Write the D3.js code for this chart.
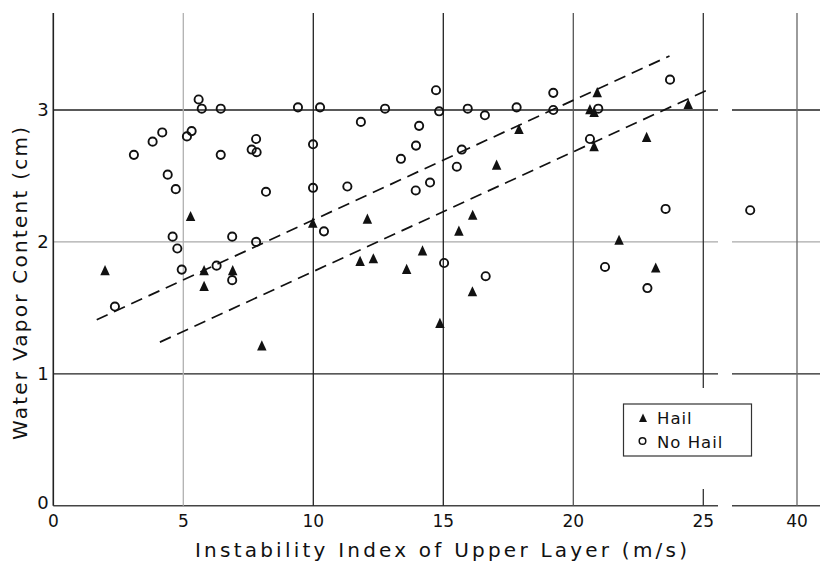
<!DOCTYPE html>
<html>
<head>
<meta charset="utf-8">
<script src="https://cdn.jsdelivr.net/npm/d3@7"></script>
<style>
  html, body { margin: 0; padding: 0; background: #fff; }
  svg { display: block; }
  text { font-family: "DejaVu Sans", sans-serif; fill: #111; }
</style>
</head>
<body>
<svg id="chart" width="820" height="563"></svg>
<script>
// ---- data ----
const hailX = [1.99, 5.28, 5.8, 5.8, 6.9, 8.02, 9.98, 11.8, 12.08, 12.31, 13.59, 14.2, 14.87, 15.6, 16.13, 16.12, 17.05, 17.91, 20.64, 20.8, 20.92, 20.8, 21.76, 22.82, 23.17, 24.42];
const hailY = [1.78, 2.19, 1.78, 1.66, 1.78, 1.21, 2.14, 1.85, 2.17, 1.87, 1.79, 1.93, 1.38, 2.08, 2.20, 1.62, 2.58, 2.85, 3.00, 2.98, 3.13, 2.72, 2.01, 2.79, 1.80, 3.04];

const noHailX = [2.37, 3.1, 3.82, 4.19, 4.4, 4.59, 4.71, 4.77, 4.94, 5.14, 5.32, 5.59, 5.71, 6.28, 6.44, 6.44, 6.88, 6.88, 7.63, 7.8, 7.82, 7.8, 8.18, 9.41, 9.99, 9.99, 10.26, 10.41, 11.31, 11.83, 12.76, 13.37, 13.94, 13.95, 14.07, 14.49, 14.72, 14.84, 15.03, 15.52, 15.71, 15.94, 16.6, 16.63, 17.82, 19.23, 19.23, 20.64, 20.96, 21.22, 22.85, 23.55, 23.72, 38.2];
const noHailY = [1.51, 2.66, 2.76, 2.83, 2.51, 2.04, 2.40, 1.95, 1.79, 2.80, 2.84, 3.08, 3.01, 1.82, 3.01, 2.66, 2.04, 1.71, 2.70, 2.78, 2.68, 2.00, 2.38, 3.02, 2.74, 2.41, 3.02, 2.08, 2.42, 2.91, 3.01, 2.63, 2.39, 2.73, 2.88, 2.45, 3.15, 2.99, 1.84, 2.57, 2.70, 3.01, 2.96, 1.74, 3.02, 3.13, 3.00, 2.78, 3.01, 1.81, 1.65, 2.25, 3.23, 2.24];

// dashed boundary lines: [x1, y1, x2, y2]
const upperLine = [1.67, 1.41, 23.7, 3.41];
const lowerLine = [4.1, 1.24, 25.25, 3.16];

const xTicksLeft = [0, 5, 10, 15, 20, 25];
const xTicksRight = [40];
const yTicks = [0, 1, 2, 3];
const xTickLabels = ["0", "5", "10", "15", "20", "25"];
const xTickLabelsRight = ["40"];
const yTickLabels = ["0", "1", "2", "3"];

const xTitle = "Instability Index of Upper Layer (m/s)";
const yTitle = "Water Vapor Content (cm)";
const legendLabels = ["Hail", "No Hail"];

// ---- scales (broken x axis) ----
const xA = d3.scaleLinear().domain([0, 25.5]).range([53.3, 716.3]);
const xB = d3.scaleLinear().domain([37.5, 41]).range([732, 823]);
const x = v => (v <= 30 ? xA(v) : xB(v));
const y = d3.scaleLinear().domain([0, 3.74]).range([505.7, 12.4]);

const svg = d3.select("#chart");
const g = svg.append("g");

const segA = [xA(0), 718];
const segB = [732, 820];
const topY = 13;

// horizontal grid lines (incl. bottom axis at 0)
const hColor = {0: "#444", 1: "#222", 2: "#aaa", 3: "#222"};
yTicks.forEach(t => {
  [segA, segB].forEach(s => {
    g.append("line")
      .attr("x1", s[0]).attr("x2", s[1])
      .attr("y1", y(t)).attr("y2", y(t))
      .attr("stroke", hColor[t]).attr("stroke-width", t === 0 ? 1.6 : 1.3);
  });
});

// vertical grid lines
const vColor = {0: "#222", 5: "#b0b0b0", 10: "#222", 15: "#222", 20: "#555", 25: "#333", 40: "#666"};
xTicksLeft.concat(xTicksRight).forEach(t => {
  g.append("line")
    .attr("x1", x(t)).attr("x2", x(t))
    .attr("y1", topY).attr("y2", y(0))
    .attr("stroke", vColor[t]).attr("stroke-width", t === 0 ? 1.6 : 1.3);
});

// dashed lines
[upperLine, lowerLine].forEach(l => {
  g.append("line")
    .attr("x1", x(l[0])).attr("y1", y(l[1]))
    .attr("x2", x(l[2])).attr("y2", y(l[3]))
    .attr("stroke", "#111").attr("stroke-width", 1.7)
    .attr("stroke-dasharray", "12,7");
});

// markers
const triPath = (cx, cy, s) => `M${cx},${cy - s * 0.62}L${cx + s / 2},${cy + s * 0.45}L${cx - s / 2},${cy + s * 0.45}Z`;

g.append("g").selectAll("circle")
  .data(d3.range(noHailX.length))
  .join("circle")
  .attr("cx", i => x(noHailX[i]))
  .attr("cy", i => y(noHailY[i]))
  .attr("r", 4.1)
  .attr("fill", "none")
  .attr("stroke", "#111")
  .attr("stroke-width", 1.9);

g.append("g").selectAll("path")
  .data(d3.range(hailX.length))
  .join("path")
  .attr("d", i => triPath(x(hailX[i]), y(hailY[i]), 9.5))
  .attr("fill", "#111");

// legend (white mask + box)
g.append("rect").attr("x", 617).attr("y", 388).attr("width", 140).attr("height", 101).attr("fill", "#fff");
g.append("rect").attr("x", 623.5).attr("y", 404).attr("width", 128).attr("height", 52)
  .attr("fill", "#fff").attr("stroke", "#333").attr("stroke-width", 1.2);
g.append("path").attr("d", triPath(643, 418.5, 8)).attr("fill", "#111");
g.append("circle").attr("cx", 642.5).attr("cy", 441).attr("r", 3.3)
  .attr("fill", "none").attr("stroke", "#111").attr("stroke-width", 1.5);
g.append("text").attr("x", 657).attr("y", 424).attr("font-size", 16.5).attr("letter-spacing", 1).text(legendLabels[0]);
g.append("text").attr("x", 657).attr("y", 447.5).attr("font-size", 16.5).attr("letter-spacing", 1).text(legendLabels[1]);

// tick labels
xTicksLeft.forEach((t, i) => {
  g.append("text").attr("x", x(t)).attr("y", 527).attr("text-anchor", "middle")
    .attr("font-size", 17).text(xTickLabels[i]);
});
xTicksRight.forEach((t, i) => {
  g.append("text").attr("x", x(t)).attr("y", 527).attr("text-anchor", "middle")
    .attr("font-size", 17).text(xTickLabelsRight[i]);
});
yTicks.forEach((t, i) => {
  g.append("text").attr("x", 43).attr("y", y(t) + (t === 0 ? 3 : 6)).attr("text-anchor", "middle")
    .attr("font-size", 18).text(yTickLabels[i]);
});

// axis titles
g.append("text").attr("x", 195).attr("y", 557)
  .attr("font-size", 20)
  .attr("textLength", 492).attr("lengthAdjust", "spacing")
  .text(xTitle);
g.append("text")
  .attr("transform", "translate(27,440) rotate(-90)")
  .attr("x", 0).attr("y", 0)
  .attr("font-size", 20)
  .attr("textLength", 313).attr("lengthAdjust", "spacing")
  .text(yTitle);
</script>
</body>
</html>
